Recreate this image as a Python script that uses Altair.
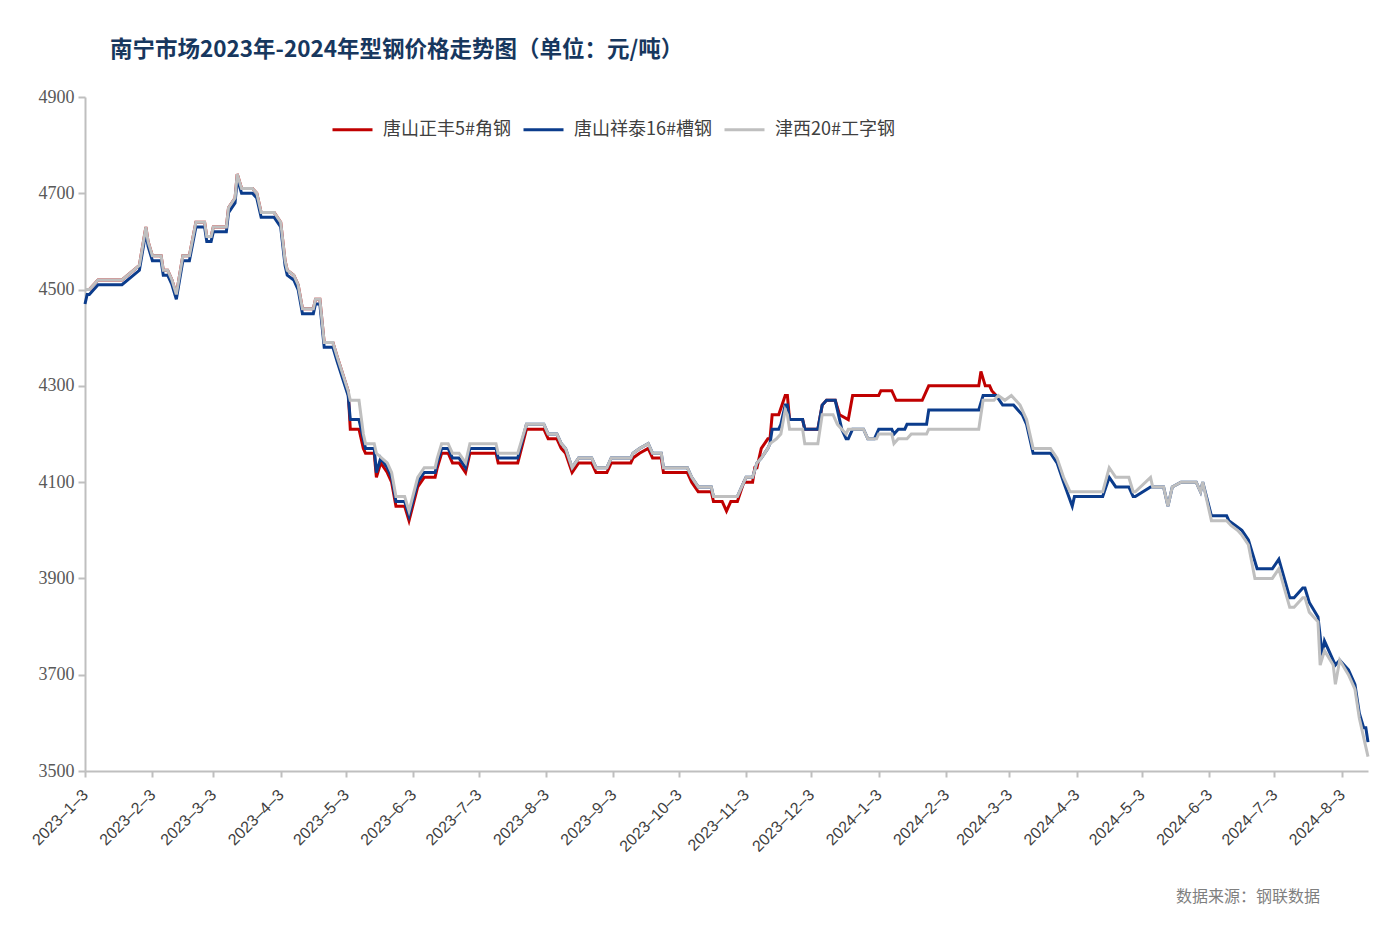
import altair as alt
import pandas as pd

title_text = "南宁市场2023年-2024年型钢价格走势图（单位：元/吨）"
source_text = "数据来源：钢联数据"
series_names = ["唐山正丰5#角钢", "唐山祥泰16#槽钢", "津西20#工字钢"]
series_colors = ["#C00000", "#0B3C8C", "#BFBFBF"]

x_ticks = ["2023-01-03", "2023-02-03", "2023-03-03", "2023-04-03", "2023-05-03",
           "2023-06-03", "2023-07-03", "2023-08-03", "2023-09-03", "2023-10-03",
           "2023-11-03", "2023-12-03", "2024-01-03", "2024-02-03", "2024-03-03",
           "2024-04-03", "2024-05-03", "2024-06-03", "2024-07-03", "2024-08-03"]
x_domain = ["2023-01-03", "2024-08-15"]
y_ticks = [3500, 3700, 3900, 4100, 4300, 4500, 4700, 4900]

# 唐山正丰5#角钢
red_dates = [
    "2023-01-03", "2023-01-05", "2023-01-09", "2023-01-20", "2023-01-28", "2023-01-31",
    "2023-02-01", "2023-02-03", "2023-02-07", "2023-02-08", "2023-02-10", "2023-02-12",
    "2023-02-14", "2023-02-17", "2023-02-20", "2023-02-23", "2023-02-27", "2023-02-28",
    "2023-03-02", "2023-03-03", "2023-03-09", "2023-03-10", "2023-03-13", "2023-03-14",
    "2023-03-16", "2023-03-21", "2023-03-23", "2023-03-25", "2023-03-31", "2023-04-03",
    "2023-04-05", "2023-04-06", "2023-04-09", "2023-04-11", "2023-04-13", "2023-04-18",
    "2023-04-19", "2023-04-21", "2023-04-23", "2023-04-27", "2023-04-29", "2023-05-04",
    "2023-05-05", "2023-05-09", "2023-05-11", "2023-05-12", "2023-05-16", "2023-05-17",
    "2023-05-19", "2023-05-22", "2023-05-24", "2023-05-26", "2023-05-30", "2023-06-01",
    "2023-06-05", "2023-06-08", "2023-06-13", "2023-06-14", "2023-06-16", "2023-06-19",
    "2023-06-21", "2023-06-24", "2023-06-27", "2023-06-29", "2023-07-11", "2023-07-12",
    "2023-07-21", "2023-07-25", "2023-08-02", "2023-08-04", "2023-08-08", "2023-08-10",
    "2023-08-12", "2023-08-15", "2023-08-18", "2023-08-24", "2023-08-26", "2023-08-31",
    "2023-09-02", "2023-09-11", "2023-09-12", "2023-09-15", "2023-09-19", "2023-09-21",
    "2023-09-25", "2023-09-26", "2023-10-07", "2023-10-09", "2023-10-12", "2023-10-18",
    "2023-10-19", "2023-10-23", "2023-10-25", "2023-10-27", "2023-10-30", "2023-11-02",
    "2023-11-06", "2023-11-07", "2023-11-08", "2023-11-10", "2023-11-13", "2023-11-14",
    "2023-11-15", "2023-11-18", "2023-11-21", "2023-11-22", "2023-11-23", "2023-11-29",
    "2023-11-30", "2023-12-06", "2023-12-08", "2023-12-10", "2023-12-14", "2023-12-16",
    "2023-12-20", "2023-12-22", "2024-01-03", "2024-01-04", "2024-01-09", "2024-01-11",
    "2024-01-23", "2024-01-26", "2024-02-18", "2024-02-19", "2024-02-21", "2024-02-23",
    "2024-02-24", "2024-02-26"]
red_values = [
    4500, 4500, 4520, 4520, 4550, 4630,
    4600, 4570, 4570, 4540, 4540, 4520,
    4490, 4570, 4570, 4640, 4640, 4610,
    4610, 4630, 4630, 4670, 4690, 4740,
    4710, 4710, 4700, 4660, 4660, 4640,
    4560, 4540, 4530, 4510, 4460, 4460,
    4480, 4480, 4390, 4390, 4360, 4290,
    4210, 4210, 4170, 4160, 4160, 4110,
    4140, 4120, 4100, 4050, 4050, 4020,
    4090, 4110, 4110, 4130, 4160, 4160,
    4140, 4140, 4120, 4160, 4160, 4140,
    4140, 4210, 4210, 4190, 4190, 4170,
    4160, 4120, 4140, 4140, 4120, 4120,
    4140, 4140, 4150, 4160, 4170, 4150,
    4150, 4120, 4120, 4100, 4080, 4080,
    4060, 4060, 4040, 4060, 4060, 4100,
    4100, 4130, 4130, 4170, 4190, 4190,
    4240, 4240, 4280, 4280, 4230, 4230,
    4210, 4210, 4260, 4270, 4270, 4240,
    4230, 4280, 4280, 4290, 4290, 4270,
    4270, 4300, 4300, 4330, 4300, 4300,
    4290, 4280]

# 唐山祥泰16#槽钢
blue_dates = [
    "2023-01-03", "2023-01-04", "2023-01-05", "2023-01-09", "2023-01-20", "2023-01-28",
    "2023-01-31", "2023-02-01", "2023-02-03", "2023-02-07", "2023-02-08", "2023-02-10",
    "2023-02-12", "2023-02-14", "2023-02-17", "2023-02-20", "2023-02-23", "2023-02-27",
    "2023-02-28", "2023-03-02", "2023-03-03", "2023-03-09", "2023-03-10", "2023-03-13",
    "2023-03-14", "2023-03-16", "2023-03-21", "2023-03-23", "2023-03-25", "2023-03-31",
    "2023-04-03", "2023-04-05", "2023-04-06", "2023-04-09", "2023-04-11", "2023-04-13",
    "2023-04-18", "2023-04-19", "2023-04-21", "2023-04-23", "2023-04-27", "2023-04-29",
    "2023-05-04", "2023-05-05", "2023-05-09", "2023-05-11", "2023-05-12", "2023-05-16",
    "2023-05-17", "2023-05-19", "2023-05-22", "2023-05-24", "2023-05-26", "2023-05-30",
    "2023-06-01", "2023-06-05", "2023-06-08", "2023-06-13", "2023-06-14", "2023-06-16",
    "2023-06-19", "2023-06-21", "2023-06-24", "2023-06-27", "2023-06-29", "2023-07-11",
    "2023-07-12", "2023-07-21", "2023-07-25", "2023-08-02", "2023-08-04", "2023-08-08",
    "2023-08-10", "2023-08-12", "2023-08-15", "2023-08-18", "2023-08-24", "2023-08-26",
    "2023-08-31", "2023-09-02", "2023-09-11", "2023-09-12", "2023-09-15", "2023-09-19",
    "2023-09-21", "2023-09-25", "2023-09-26", "2023-10-07", "2023-10-09", "2023-10-12",
    "2023-10-18", "2023-10-19", "2023-10-30", "2023-11-01", "2023-11-03", "2023-11-06",
    "2023-11-08", "2023-11-10", "2023-11-13", "2023-11-14", "2023-11-15", "2023-11-18",
    "2023-11-19", "2023-11-21", "2023-11-22", "2023-11-23", "2023-11-29", "2023-11-30",
    "2023-12-06", "2023-12-08", "2023-12-10", "2023-12-14", "2023-12-17", "2023-12-19",
    "2023-12-20", "2023-12-22", "2023-12-27", "2023-12-29", "2024-01-01", "2024-01-03",
    "2024-01-09", "2024-01-10", "2024-01-12", "2024-01-15", "2024-01-16", "2024-01-25",
    "2024-01-26", "2024-02-18", "2024-02-20", "2024-02-26", "2024-02-29", "2024-03-05",
    "2024-03-07", "2024-03-09", "2024-03-11", "2024-03-14", "2024-03-22", "2024-03-25",
    "2024-03-28", "2024-04-01", "2024-04-02", "2024-04-15", "2024-04-18", "2024-04-21",
    "2024-04-27", "2024-04-29", "2024-04-30", "2024-05-07", "2024-05-08", "2024-05-13",
    "2024-05-15", "2024-05-17", "2024-05-21", "2024-05-28", "2024-05-30", "2024-05-31",
    "2024-06-04", "2024-06-11", "2024-06-12", "2024-06-15", "2024-06-18", "2024-06-21",
    "2024-06-25", "2024-07-02", "2024-07-05", "2024-07-10", "2024-07-12", "2024-07-16",
    "2024-07-17", "2024-07-19", "2024-07-23", "2024-07-25", "2024-07-26", "2024-07-30",
    "2024-07-31", "2024-08-02", "2024-08-06", "2024-08-09", "2024-08-11", "2024-08-13",
    "2024-08-14", "2024-08-15"]
blue_values = [
    4470, 4490, 4490, 4510, 4510, 4540,
    4620, 4590, 4560, 4560, 4530, 4530,
    4510, 4480, 4560, 4560, 4630, 4630,
    4600, 4600, 4620, 4620, 4660, 4680,
    4730, 4700, 4700, 4690, 4650, 4650,
    4630, 4550, 4530, 4520, 4500, 4450,
    4450, 4470, 4470, 4380, 4380, 4350,
    4280, 4230, 4230, 4190, 4170, 4170,
    4120, 4150, 4130, 4110, 4060, 4060,
    4030, 4100, 4120, 4120, 4140, 4170,
    4170, 4150, 4150, 4130, 4170, 4170,
    4150, 4150, 4220, 4220, 4200, 4200,
    4180, 4170, 4130, 4150, 4150, 4130,
    4130, 4150, 4150, 4160, 4170, 4180,
    4160, 4160, 4130, 4130, 4110, 4090,
    4090, 4070, 4070, 4090, 4110, 4110,
    4140, 4150, 4170, 4180, 4210, 4210,
    4220, 4260, 4260, 4230, 4230, 4210,
    4210, 4260, 4270, 4270, 4210, 4190,
    4190, 4210, 4210, 4190, 4190, 4210,
    4210, 4200, 4210, 4210, 4220, 4220,
    4250, 4250, 4280, 4280, 4260, 4260,
    4250, 4240, 4220, 4160, 4160, 4140,
    4100, 4050, 4070, 4070, 4110, 4090,
    4090, 4070, 4070, 4090, 4090, 4090,
    4050, 4090, 4100, 4100, 4080, 4100,
    4030, 4030, 4020, 4010, 4000, 3980,
    3920, 3920, 3940, 3860, 3860, 3880,
    3880, 3850, 3820, 3740, 3770, 3730,
    3720, 3730, 3710, 3680, 3620, 3590,
    3590, 3560]

# 津西20#工字钢
gray_dates = [
    "2023-01-03", "2023-01-05", "2023-01-09", "2023-01-20", "2023-01-28", "2023-01-31",
    "2023-02-01", "2023-02-03", "2023-02-07", "2023-02-08", "2023-02-10", "2023-02-12",
    "2023-02-14", "2023-02-17", "2023-02-20", "2023-02-23", "2023-02-27", "2023-02-28",
    "2023-03-02", "2023-03-03", "2023-03-09", "2023-03-10", "2023-03-13", "2023-03-14",
    "2023-03-16", "2023-03-21", "2023-03-23", "2023-03-25", "2023-03-31", "2023-04-03",
    "2023-04-05", "2023-04-06", "2023-04-09", "2023-04-11", "2023-04-13", "2023-04-18",
    "2023-04-19", "2023-04-21", "2023-04-23", "2023-04-27", "2023-04-29", "2023-05-04",
    "2023-05-05", "2023-05-09", "2023-05-11", "2023-05-12", "2023-05-16", "2023-05-17",
    "2023-05-22", "2023-05-24", "2023-05-26", "2023-05-30", "2023-06-01", "2023-06-05",
    "2023-06-08", "2023-06-13", "2023-06-14", "2023-06-16", "2023-06-19", "2023-06-21",
    "2023-06-24", "2023-06-27", "2023-06-29", "2023-07-11", "2023-07-12", "2023-07-21",
    "2023-07-25", "2023-08-02", "2023-08-04", "2023-08-08", "2023-08-10", "2023-08-12",
    "2023-08-15", "2023-08-18", "2023-08-24", "2023-08-26", "2023-08-31", "2023-09-02",
    "2023-09-11", "2023-09-12", "2023-09-15", "2023-09-19", "2023-09-21", "2023-09-25",
    "2023-09-26", "2023-10-07", "2023-10-09", "2023-10-12", "2023-10-18", "2023-10-19",
    "2023-10-30", "2023-11-01", "2023-11-03", "2023-11-06", "2023-11-08", "2023-11-10",
    "2023-11-13", "2023-11-14", "2023-11-17", "2023-11-19", "2023-11-21", "2023-11-22",
    "2023-11-23", "2023-11-29", "2023-11-30", "2023-12-06", "2023-12-08", "2023-12-13",
    "2023-12-15", "2023-12-19", "2023-12-20", "2023-12-27", "2023-12-29", "2024-01-02",
    "2024-01-03", "2024-01-09", "2024-01-10", "2024-01-12", "2024-01-16", "2024-01-18",
    "2024-01-25", "2024-01-26", "2024-02-18", "2024-02-20", "2024-02-25", "2024-02-27",
    "2024-03-01", "2024-03-04", "2024-03-06", "2024-03-08", "2024-03-11", "2024-03-14",
    "2024-03-22", "2024-03-25", "2024-03-28", "2024-03-31", "2024-04-02", "2024-04-15",
    "2024-04-18", "2024-04-21", "2024-04-27", "2024-04-29", "2024-04-30", "2024-05-07",
    "2024-05-08", "2024-05-13", "2024-05-15", "2024-05-17", "2024-05-21", "2024-05-28",
    "2024-05-30", "2024-05-31", "2024-06-04", "2024-06-11", "2024-06-13", "2024-06-16",
    "2024-06-18", "2024-06-21", "2024-06-24", "2024-07-02", "2024-07-05", "2024-07-10",
    "2024-07-12", "2024-07-16", "2024-07-17", "2024-07-19", "2024-07-23", "2024-07-24",
    "2024-07-26", "2024-07-30", "2024-07-31", "2024-08-02", "2024-08-06", "2024-08-09",
    "2024-08-11", "2024-08-13", "2024-08-15"]
gray_values = [
    4500, 4500, 4520, 4520, 4550, 4630,
    4600, 4570, 4570, 4540, 4540, 4520,
    4490, 4570, 4570, 4640, 4640, 4610,
    4610, 4630, 4630, 4670, 4690, 4740,
    4710, 4710, 4700, 4660, 4660, 4640,
    4560, 4540, 4530, 4510, 4460, 4460,
    4480, 4480, 4390, 4390, 4360, 4290,
    4270, 4270, 4200, 4180, 4180, 4160,
    4140, 4120, 4070, 4070, 4040, 4110,
    4130, 4130, 4150, 4180, 4180, 4160,
    4160, 4140, 4180, 4180, 4160, 4160,
    4220, 4220, 4200, 4200, 4180, 4170,
    4130, 4150, 4150, 4130, 4130, 4150,
    4150, 4160, 4170, 4180, 4160, 4160,
    4130, 4130, 4110, 4090, 4090, 4070,
    4070, 4090, 4110, 4110, 4140, 4150,
    4170, 4180, 4190, 4200, 4250, 4240,
    4210, 4210, 4180, 4180, 4240, 4240,
    4220, 4200, 4210, 4210, 4190, 4190,
    4200, 4200, 4180, 4190, 4190, 4200,
    4200, 4210, 4210, 4270, 4270, 4280,
    4270, 4280, 4270, 4260, 4230, 4170,
    4170, 4150, 4110, 4080, 4080, 4080,
    4130, 4110, 4110, 4080, 4080, 4110,
    4090, 4090, 4050, 4090, 4100, 4100,
    4080, 4100, 4020, 4020, 4010, 4000,
    3990, 3970, 3900, 3900, 3920, 3840,
    3840, 3860, 3860, 3830, 3810, 3720,
    3750, 3720, 3680, 3730, 3700, 3670,
    3610, 3570, 3530]

frames = []
for name, dates, values in [(series_names[0], red_dates, red_values),
                            (series_names[1], blue_dates, blue_values),
                            (series_names[2], gray_dates, gray_values)]:
    frames.append(pd.DataFrame({"date": dates, "price": values, "series": name}))
df = pd.concat(frames, ignore_index=True)


def to_ms(s):
    return int(pd.Timestamp(s, tz="UTC").value // 10**6)


x_enc = alt.X(
    "date:T",
    title=None,
    scale=alt.Scale(type="utc", domain=[to_ms(d) for d in x_domain], nice=False),
    axis=alt.Axis(
        values=[to_ms(d) for d in x_ticks],
        labelExpr="utcFormat(datum.value, '%Y–%-m–%-d')",
        labelAngle=315,
        labelAlign="right",
        labelBaseline="middle",
        labelFont="Liberation Sans",
        labelFontSize=16,
        labelColor="#404040",
        labelPadding=15,
        labelOverlap=False,
        labelBound=False,
        labelFlush=False,
        grid=False,
        domainColor="#BFBFBF",
        domainWidth=2,
        tickColor="#BFBFBF",
        tickWidth=2,
        tickSize=6,
    ),
)
y_enc = alt.Y(
    "price:Q",
    title=None,
    scale=alt.Scale(domain=[3500, 4900], zero=False, nice=False),
    axis=alt.Axis(
        values=y_ticks,
        format="d",
        labelFont="Liberation Serif",
        labelFontSize=18,
        labelColor="#595959",
        labelPadding=4,
        grid=False,
        domainColor="#BFBFBF",
        domainWidth=2,
        tickColor="#BFBFBF",
        tickWidth=2,
        tickSize=7,
    ),
)
color_enc = alt.Color(
    "series:N",
    scale=alt.Scale(domain=series_names, range=series_colors),
    legend=alt.Legend(
        title=None,
        orient="none",
        legendX=246,
        legendY=11,
        direction="horizontal",
        columns=3,
        symbolType="stroke",
        symbolSize=1600,
        symbolStrokeWidth=3,
        labelFont="Noto Sans CJK SC",
        labelFontSize=18,
        labelColor="#404040",
        labelOffset=9,
        columnPadding=6,
    ),
)

base = alt.Chart(df)
layers = [
    base.transform_filter(alt.datum.series == name)
    .mark_line(strokeWidth=3)
    .encode(x=x_enc, y=y_enc, color=color_enc)
    for name in series_names
]

title_mark = alt.Chart(pd.DataFrame({"t": [title_text]})).mark_text(
    align="left", baseline="middle", font="Noto Sans CJK SC", fontSize=22.5,
    fontWeight="bold", color="#17375E"
).encode(x=alt.value(25), y=alt.value(-47), text="t:N")

source_mark = alt.Chart(pd.DataFrame({"t": [source_text]})).mark_text(
    align="right", baseline="middle", font="Noto Sans CJK SC", fontSize=16,
    color="#7F7F7F"
).encode(x=alt.value(1235), y=alt.value(800), text="t:N")

chart = alt.layer(*layers, title_mark, source_mark).properties(
    width=1283,
    height=674,
    autosize=alt.AutoSizeParams(type="none"),
    padding={"left": 77, "top": 89, "right": 12, "bottom": 140},
    background="white",
).configure_view(stroke=None)

chart.save("out.html", embed_options={"renderer": "svg", "actions": False})
